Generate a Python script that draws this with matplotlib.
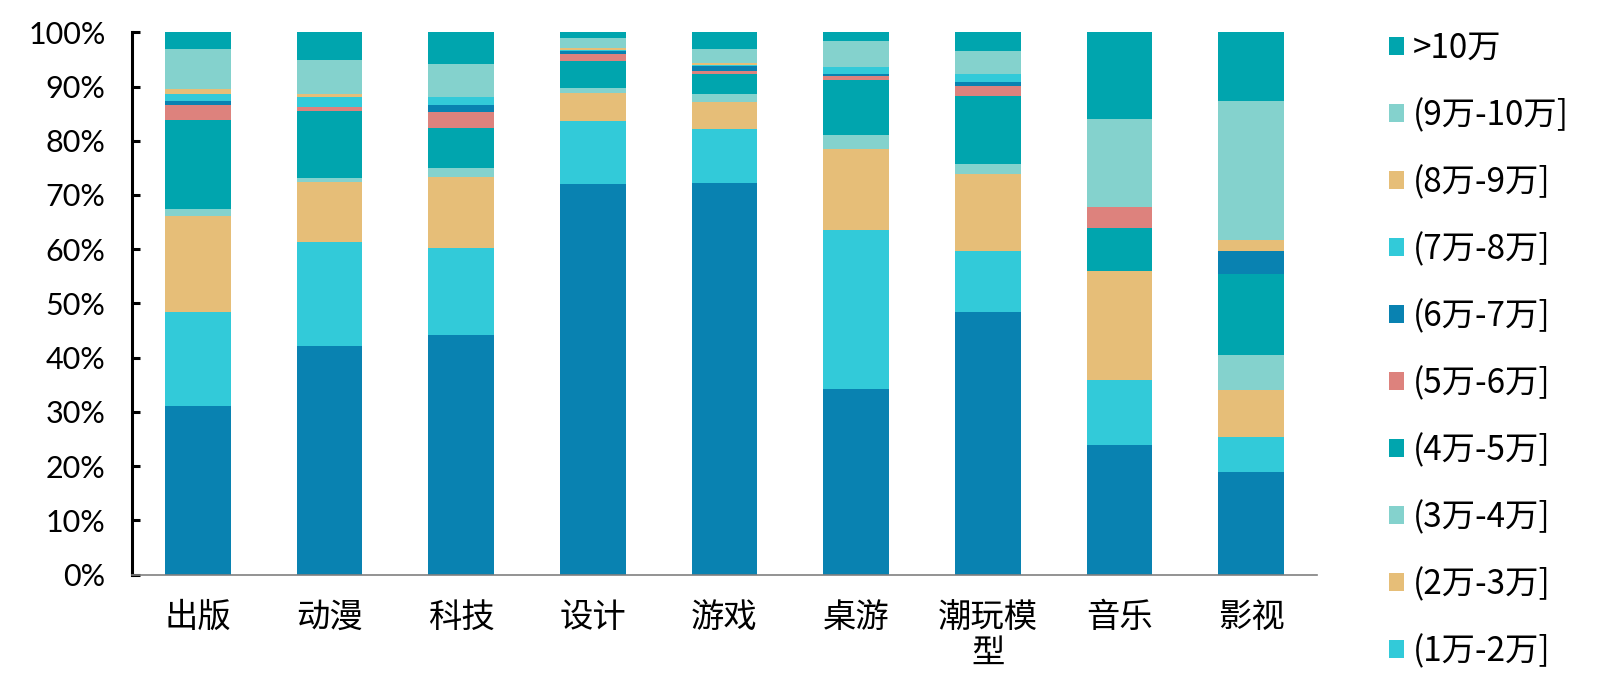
import numpy as np
import matplotlib.pyplot as plt
from matplotlib.patches import Patch

plt.rcParams['font.family'] = ['Noto Sans CJK SC', 'DejaVu Sans']

# categorias (eixo x)
categorias = ['出版', '动漫', '科技', '设计', '游戏', '桌游', '潮玩模\n型', '音乐', '影视']

# faixas de valor, de baixo para cima (%)
ate_1w   = [31.0, 42.2, 44.1, 72.1, 72.3, 34.2, 48.4, 23.95, 19.0]
w1_2     = [17.4, 19.2, 16.1, 11.6, 9.85, 29.3, 11.3, 11.95, 6.4]
w2_3     = [17.7, 11.0, 13.1, 5.05, 5.0, 14.9, 14.15, 20.05, 8.6]
w3_4     = [1.4, 0.85, 1.7, 1.05, 1.45, 2.6, 1.8, 0.0, 6.4]
w4_5     = [16.4, 12.25, 7.3, 5.0, 3.7, 10.15, 12.55, 8.0, 14.95]
w5_6     = [2.7, 0.8, 3.0, 1.25, 0.55, 0.75, 1.95, 3.85, 0.0]
w6_7     = [0.8, 0.1, 1.3, 0.45, 0.95, 0.4, 0.65, 0.0, 4.25]
w7_8     = [1.2, 1.7, 1.5, 0.3, 0.2, 1.25, 1.5, 0.0, 0.0]
w8_9     = [0.9, 0.7, 0.0, 0.25, 0.3, 0.0, 0.0, 0.0, 2.1]
w9_10    = [7.4, 6.2, 6.05, 1.9, 2.55, 4.9, 4.25, 16.15, 25.55]
acima_10 = [3.1, 5.1, 5.85, 1.05, 3.15, 1.55, 3.45, 16.05, 12.75]

series = [ate_1w, w1_2, w2_3, w3_4, w4_5, w5_6, w6_7, w7_8, w8_9, w9_10, acima_10]
rotulos = ['≤1万', '(1万-2万]', '(2万-3万]', '(3万-4万]', '(4万-5万]', '(5万-6万]',
           '(6万-7万]', '(7万-8万]', '(8万-9万]', '(9万-10万]', '>10万']

# paleta de 6 cores que se repete
paleta = ['#0982B1', '#32CAD9', '#E6BE78', '#84D2CD', '#00A5AE', '#DD827D']
cores = [paleta[i % 6] for i in range(len(series))]

dados = np.array(series, dtype=float)
dados = dados / dados.sum(axis=0) * 100

x = np.arange(len(categorias))

fig = plt.figure(figsize=(16, 6.86), dpi=100)
ax = fig.add_axes([0.0825, 0.1625, 0.7406, 0.7904])

base = np.zeros(len(categorias))
for linha, cor in zip(dados, cores):
    ax.bar(x, linha, width=0.5, bottom=base, color=cor, linewidth=0)
    base += linha

ax.set_xlim(-0.5, len(categorias) - 0.5)
ax.set_ylim(0, 100)
ax.set_yticks(np.arange(0, 101, 10))
ax.set_yticklabels([f'{v}%' for v in range(0, 101, 10)], fontsize=22, family='Lato')
ax.set_xticks(x)
ax.set_xticklabels(categorias, fontsize=24, linespacing=1.05)

ax.spines['top'].set_visible(False)
ax.spines['right'].set_visible(False)
ax.spines['left'].set_linewidth(2.2)
ax.spines['left'].set_color('black')
ax.spines['bottom'].set_linewidth(1.2)
ax.spines['bottom'].set_color('#808080')
ax.tick_params(axis='y', direction='in', length=6, width=2.2, pad=19)
ax.tick_params(axis='x', length=0, pad=18)

# legenda (so as 10 primeiras faixas aparecem na imagem original)
handles = [Patch(facecolor=cores[i], edgecolor='none') for i in range(len(series) - 1, 0, -1)]
labels = [rotulos[i] for i in range(len(series) - 1, 0, -1)]
fig.legend(handles, labels, loc='upper left', bbox_to_anchor=(0.860, 0.974),
           frameon=False, fontsize=24, handlelength=0.45, handleheight=0.45,
           handletextpad=0.25, labelspacing=0.96, borderaxespad=0)

plt.savefig('out.png', dpi=100)
